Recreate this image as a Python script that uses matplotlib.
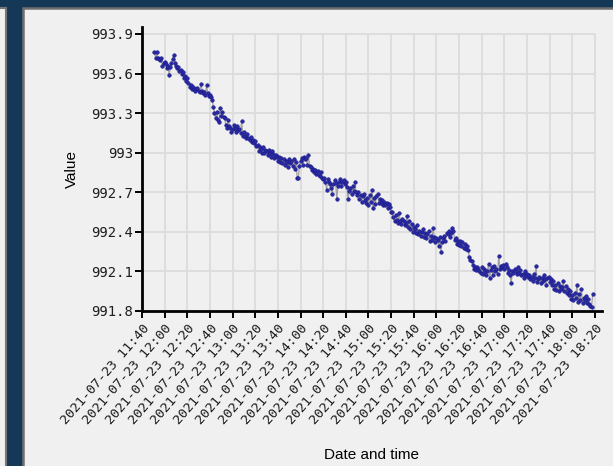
import numpy as np
import pandas as pd
import matplotlib
matplotlib.use("Agg")
import matplotlib.pyplot as plt
import matplotlib.dates as mdates
from matplotlib.patches import Rectangle

# one reading per minute, first one at 11:51
start_time = "2021-07-23 11:51"
values = [
    993.76, 993.72, 993.76, 993.72, 993.71, 993.70, 993.72, 993.66, 993.68, 993.69,
    993.67, 993.64, 993.66, 993.59, 993.65, 993.68, 993.71, 993.74, 993.68, 993.66,
    993.64, 993.65, 993.62, 993.63, 993.60, 993.61, 993.57, 993.58, 993.54, 993.57,
    993.53, 993.50, 993.51, 993.48, 993.50, 993.48, 993.47, 993.48, 993.49, 993.47,
    993.46, 993.52, 993.47, 993.45, 993.46, 993.44, 993.51, 993.45, 993.43, 993.44,
    993.42, 993.40, 993.35, 993.30, 993.26, 993.31, 993.25, 993.23, 993.34, 993.28,
    993.31, 993.27, 993.26, 993.21, 993.19, 993.25, 993.20, 993.19, 993.16, 993.18,
    993.21, 993.19, 993.16, 993.20, 993.17, 993.18, 993.15, 993.24, 993.13, 993.16,
    993.13, 993.11, 993.14, 993.11, 993.10, 993.12, 993.08, 993.10, 993.07, 993.09,
    993.05, 993.06, 993.01, 993.04, 993.03, 993.00, 993.04, 993.00, 993.02, 993.01,
    992.98, 993.02, 993.00, 992.97, 993.01, 992.99, 992.96, 992.98, 992.97, 992.94,
    992.97, 992.93, 992.96, 992.92, 992.95, 992.91, 992.94, 992.93, 992.89, 992.95,
    992.92, 992.94, 992.90, 992.95, 992.88, 992.93, 992.81, 992.81, 992.90, 992.94,
    992.96, 992.91, 992.97, 992.95, 992.96, 992.91, 992.98, 992.90, 992.89, 992.87,
    992.88, 992.85, 992.87, 992.84, 992.86, 992.83, 992.82, 992.85, 992.81, 992.80,
    992.81, 992.78, 992.72, 992.80, 992.78, 992.76, 992.73, 992.69, 992.76, 992.79,
    992.77, 992.65, 992.75, 992.78, 992.80, 992.75, 992.78, 992.79, 992.76, 992.78,
    992.74, 992.65, 992.71, 992.73, 992.69, 992.75, 992.71, 992.78, 992.70, 992.68,
    992.70, 992.65, 992.68, 992.63, 992.67, 992.69, 992.64, 992.62, 992.66, 992.60,
    992.68, 992.63, 992.72, 992.58, 992.66, 992.61, 992.67, 992.69, 992.62, 992.65,
    992.62, 992.64, 992.60, 992.63, 992.60, 992.62, 992.58, 992.61, 992.59, 992.55,
    992.55, 992.51, 992.48, 992.53, 992.49, 992.47, 992.54, 992.48, 992.46, 992.50,
    992.48, 992.45, 992.47, 992.52, 992.44, 992.48, 992.42, 992.46, 992.40, 992.44,
    992.42, 992.39, 992.45, 992.38, 992.41, 992.37, 992.40, 992.42, 992.36, 992.39,
    992.35, 992.38, 992.41, 992.33, 992.37, 992.34, 992.43, 992.36, 992.32, 992.35,
    992.34, 992.29, 992.36, 992.25, 992.32, 992.35, 992.37, 992.33, 992.39, 992.38,
    992.41, 992.36, 992.39, 992.43, 992.41, 992.34, 992.35, 992.31, 992.33, 992.30,
    992.33, 992.29, 992.32, 992.28, 992.31, 992.27, 992.29, 992.26, 992.21, 992.19,
    992.18, 992.15, 992.12, 992.13, 992.11, 992.13, 992.12, 992.10, 992.09, 992.13,
    992.08, 992.12, 992.10, 992.07, 992.10, 992.16, 992.05, 992.11, 992.13, 992.07,
    992.14, 992.10, 992.12, 992.08, 992.22, 992.12, 992.14, 992.13, 992.15, 992.12,
    992.16, 992.13, 992.09, 992.11, 992.07, 992.01, 992.10, 992.09, 992.12, 992.10,
    992.08, 992.13, 992.09, 992.11, 992.07, 992.08, 992.05, 992.10, 992.07, 992.08,
    992.06, 992.07, 992.04, 992.06, 992.03, 992.08, 992.05, 992.14, 992.02, 992.04,
    992.06, 992.01, 992.05, 992.03, 992.07, 992.04, 992.00, 992.05, 992.06, 992.02,
    992.04, 992.00, 992.03, 991.97, 992.00, 991.96, 992.01, 991.95, 991.99, 991.97,
    991.98, 992.03, 991.95, 991.99, 991.94, 991.97, 991.92, 991.95, 991.89, 991.92,
    991.88, 991.94, 991.90, 992.00, 991.87, 991.93, 991.88, 991.97, 991.86, 991.90,
    991.88, 991.91, 991.86, 991.89, 991.85, 991.84, 991.83, 991.93,
]

tick_times = [
    "2021-07-23 11:40", "2021-07-23 12:00", "2021-07-23 12:20", "2021-07-23 12:40",
    "2021-07-23 13:00", "2021-07-23 13:20", "2021-07-23 13:40", "2021-07-23 14:00",
    "2021-07-23 14:20", "2021-07-23 14:40", "2021-07-23 15:00", "2021-07-23 15:20",
    "2021-07-23 15:40", "2021-07-23 16:00", "2021-07-23 16:20", "2021-07-23 16:40",
    "2021-07-23 17:00", "2021-07-23 17:20", "2021-07-23 17:40", "2021-07-23 18:00",
    "2021-07-23 18:20",
]
ytick_values = [993.9, 993.6, 993.3, 993.0, 992.7, 992.4, 992.1, 991.8]
ytick_labels = ["993.9", "993.6", "993.3", "993", "992.7", "992.4", "992.1", "991.8"]

times = pd.date_range(start_time, periods=len(values), freq="min")
tnum = mdates.date2num(times.to_pydatetime())
ticknum = mdates.date2num(pd.to_datetime(tick_times).to_pydatetime())

W, H = 613, 466
fig = plt.figure(figsize=(W / 100, H / 100), dpi=100, facecolor="#163857")

def panel(x0, y0, w, h, **kw):
    # rectangle given in pixels, y measured from the top
    r = Rectangle((x0 / W, 1 - (y0 + h) / H), w / W, h / H,
                  transform=fig.transFigure, zorder=-5, **kw)
    fig.patches.append(r)

panel(-20, 8, 26, 480, facecolor="#f0f0f0", edgecolor="#777777", lw=1.5)
panel(23, 8, 620, 480, facecolor="#f0f0f0", edgecolor="#6f6f6f", lw=1.8)

ax = fig.add_axes([142 / W, 155 / H, 460 / W, 284 / H])
ax.set_zorder(5)
ax.patch.set_alpha(0)

# grid only spans the tick range, like the original
ax.vlines(ticknum, 991.8, 993.9, color="#dcdcdc", lw=1.3, zorder=0)
ax.hlines(ytick_values, ticknum[0], ticknum[-1], color="#dcdcdc", lw=1.3, zorder=0)

ax.plot(tnum, values, color="#a0a0a0", lw=0.9, zorder=2)
ax.plot(tnum, values, ls="none", marker="o", ms=2.5, color="#2b2ba8",
        mec="#1c1c8a", mew=0.5, zorder=3)

ax.set_xlim(ticknum[0], ticknum[-1] + 6.2 / 1440)
ax.set_ylim(991.8, 993.953)

for s in ["top", "right"]:
    ax.spines[s].set_visible(False)
for s in ["left", "bottom"]:
    ax.spines[s].set_linewidth(2)
    ax.spines[s].set_color("black")

ax.set_yticks(ytick_values)
ax.set_yticklabels(ytick_labels, fontfamily="DejaVu Sans Mono", fontsize=10)
ax.set_xticks(ticknum)
ax.set_xticklabels(tick_times, rotation=49, ha="right", va="top",
                   rotation_mode="anchor", fontfamily="DejaVu Sans Mono", fontsize=9.5)
ax.tick_params(direction="out", length=5, width=1.4, color="black", labelcolor="#1e1e1e")
ax.tick_params(axis="x", pad=3)
ax.tick_params(axis="y", pad=1.5)

ax.set_ylabel("Value", fontfamily="Liberation Sans", fontsize=11)
ax.yaxis.set_label_coords(-0.137, 0.5)
ax.set_xlabel("Date and time", fontfamily="Liberation Sans", fontsize=11)
ax.xaxis.set_label_coords(0.5, -0.483)

fig.savefig("out.png", dpi=100, facecolor=fig.get_facecolor())
